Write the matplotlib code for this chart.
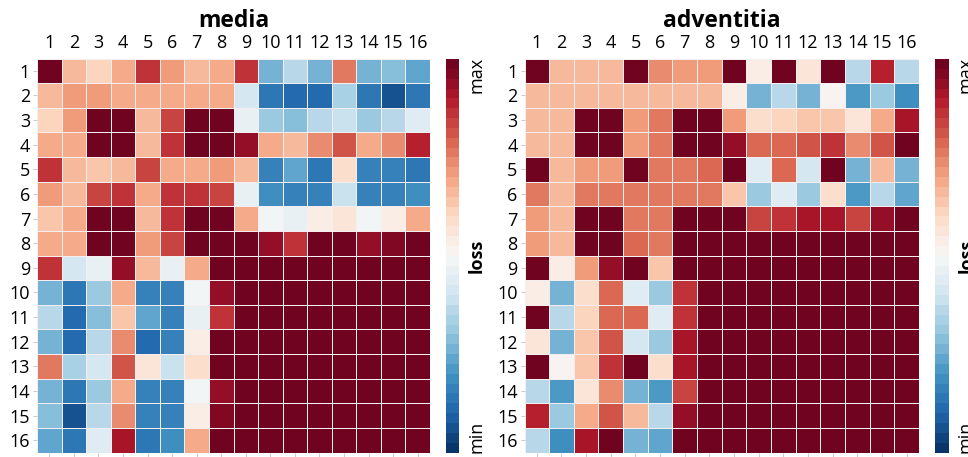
import numpy as np
import matplotlib
matplotlib.use("Agg")
import matplotlib.pyplot as plt
from matplotlib.colors import ListedColormap

plt.rcParams['font.family'] = ['Open Sans', 'DejaVu Sans']

# normalised loss per (row, column) pair, 0 = min, 1 = max
labels = [str(i) for i in range(1, 17)]

media = [
    [1.00, 0.65, 0.62, 0.68, 0.85, 0.70, 0.66, 0.69, 0.85, 0.25, 0.35, 0.26, 0.77, 0.26, 0.28, 0.24],
    [0.66, 0.71, 0.71, 0.69, 0.68, 0.68, 0.69, 0.69, 0.40, 0.14, 0.11, 0.11, 0.34, 0.13, 0.07, 0.13],
    [0.62, 0.71, 1.00, 1.00, 0.65, 0.83, 1.00, 1.00, 0.47, 0.31, 0.29, 0.35, 0.38, 0.32, 0.35, 0.44],
    [0.68, 0.69, 1.00, 1.00, 0.67, 0.85, 1.00, 1.00, 0.93, 0.69, 0.65, 0.73, 0.82, 0.69, 0.74, 0.88],
    [0.86, 0.67, 0.64, 0.66, 0.83, 0.69, 0.68, 0.71, 0.67, 0.16, 0.24, 0.14, 0.58, 0.16, 0.17, 0.13],
    [0.70, 0.66, 0.83, 0.86, 0.69, 0.86, 0.85, 0.83, 0.47, 0.18, 0.16, 0.17, 0.38, 0.17, 0.16, 0.19],
    [0.63, 0.68, 1.00, 1.00, 0.66, 0.85, 1.00, 1.00, 0.69, 0.49, 0.47, 0.54, 0.57, 0.49, 0.54, 0.69],
    [0.69, 0.69, 1.00, 1.00, 0.72, 0.83, 1.00, 1.00, 1.00, 0.93, 0.85, 1.00, 1.00, 0.93, 0.97, 1.00],
    [0.86, 0.40, 0.47, 0.93, 0.66, 0.47, 0.69, 1.00, 1.00, 1.00, 1.00, 1.00, 1.00, 1.00, 1.00, 1.00],
    [0.25, 0.13, 0.31, 0.69, 0.16, 0.17, 0.49, 0.93, 1.00, 1.00, 1.00, 1.00, 1.00, 1.00, 1.00, 1.00],
    [0.35, 0.12, 0.28, 0.64, 0.24, 0.16, 0.46, 0.85, 1.00, 1.00, 1.00, 1.00, 1.00, 1.00, 1.00, 1.00],
    [0.25, 0.11, 0.35, 0.74, 0.12, 0.16, 0.54, 1.00, 1.00, 1.00, 1.00, 1.00, 1.00, 1.00, 1.00, 1.00],
    [0.77, 0.33, 0.40, 0.82, 0.57, 0.38, 0.58, 1.00, 1.00, 1.00, 1.00, 1.00, 1.00, 1.00, 1.00, 1.00],
    [0.25, 0.14, 0.31, 0.69, 0.16, 0.17, 0.49, 0.93, 1.00, 1.00, 1.00, 1.00, 1.00, 1.00, 1.00, 1.00],
    [0.28, 0.07, 0.35, 0.73, 0.17, 0.16, 0.54, 0.96, 1.00, 1.00, 1.00, 1.00, 1.00, 1.00, 1.00, 1.00],
    [0.24, 0.14, 0.44, 0.90, 0.13, 0.19, 0.69, 1.00, 1.00, 1.00, 1.00, 1.00, 1.00, 1.00, 1.00, 1.00],
]

adventitia = [
    [1.00, 0.67, 0.67, 0.66, 1.00, 0.74, 0.72, 0.72, 1.00, 0.54, 1.00, 0.55, 1.00, 0.35, 0.89, 0.36],
    [0.67, 0.67, 0.67, 0.66, 0.67, 0.66, 0.66, 0.66, 0.53, 0.26, 0.35, 0.26, 0.51, 0.22, 0.31, 0.18],
    [0.67, 0.67, 1.00, 1.00, 0.72, 0.77, 1.00, 1.00, 0.70, 0.59, 0.61, 0.64, 0.64, 0.57, 0.68, 0.92],
    [0.67, 0.67, 1.00, 1.00, 0.72, 0.77, 1.00, 1.00, 0.93, 0.78, 0.78, 0.80, 0.85, 0.74, 0.82, 1.00],
    [1.00, 0.67, 0.72, 0.72, 1.00, 0.77, 0.77, 0.79, 1.00, 0.43, 0.79, 0.42, 1.00, 0.25, 0.67, 0.26],
    [0.75, 0.67, 0.77, 0.77, 0.77, 0.77, 0.77, 0.77, 0.64, 0.31, 0.43, 0.31, 0.58, 0.22, 0.35, 0.23],
    [0.72, 0.67, 1.00, 1.00, 0.77, 0.77, 1.00, 1.00, 1.00, 0.84, 0.86, 0.90, 0.91, 0.83, 0.93, 1.00],
    [0.72, 0.67, 1.00, 1.00, 0.79, 0.77, 1.00, 1.00, 1.00, 1.00, 1.00, 1.00, 1.00, 1.00, 1.00, 1.00],
    [1.00, 0.53, 0.70, 0.93, 1.00, 0.64, 1.00, 1.00, 1.00, 1.00, 1.00, 1.00, 1.00, 1.00, 1.00, 1.00],
    [0.54, 0.26, 0.59, 0.78, 0.43, 0.31, 0.85, 1.00, 1.00, 1.00, 1.00, 1.00, 1.00, 1.00, 1.00, 1.00],
    [1.00, 0.35, 0.61, 0.78, 0.79, 0.43, 0.86, 1.00, 1.00, 1.00, 1.00, 1.00, 1.00, 1.00, 1.00, 1.00],
    [0.55, 0.26, 0.64, 0.80, 0.42, 0.31, 0.90, 1.00, 1.00, 1.00, 1.00, 1.00, 1.00, 1.00, 1.00, 1.00],
    [1.00, 0.51, 0.64, 0.85, 1.00, 0.58, 0.91, 1.00, 1.00, 1.00, 1.00, 1.00, 1.00, 1.00, 1.00, 1.00],
    [0.35, 0.22, 0.57, 0.74, 0.25, 0.22, 0.83, 1.00, 1.00, 1.00, 1.00, 1.00, 1.00, 1.00, 1.00, 1.00],
    [0.89, 0.31, 0.68, 0.82, 0.67, 0.35, 0.93, 1.00, 1.00, 1.00, 1.00, 1.00, 1.00, 1.00, 1.00, 1.00],
    [0.36, 0.18, 0.92, 1.00, 0.26, 0.23, 1.00, 1.00, 1.00, 1.00, 1.00, 1.00, 1.00, 1.00, 1.00, 1.00],
]

W, H = 968, 457
fig = plt.figure(figsize=(W / 100, H / 100), dpi=100)

# 40 discrete steps of RdBu_r, each taken at the middle of its bin
base = matplotlib.colormaps['RdBu_r']
cmap = ListedColormap(base((np.arange(40) + 0.5) / 40))


def px(x0, y0, x1, y1):
    # pixel box (top-left origin) -> figure fraction
    return [x0 / W, 1 - y1 / H, (x1 - x0) / W, (y1 - y0) / H]


panels = [
    ("media", media, px(37, 58.5, 430, 452.5), px(445.5, 59, 459, 452.5)),
    ("adventitia", adventitia, px(524.5, 58.5, 919, 452.5), px(934.5, 59, 948.5, 452.5)),
]

for title, data, box, cbox in panels:
    ax = fig.add_axes(box)
    mesh = ax.pcolormesh(np.array(data), cmap=cmap, vmin=0, vmax=1,
                         edgecolors='#f4eef0', linewidth=0.7)
    ax.set_xlim(0, 16)
    ax.set_ylim(16, 0)
    ticks = np.arange(16) + 0.5
    ax.set_xticks(ticks)
    ax.set_xticklabels(labels)
    ax.set_yticks(ticks)
    ax.set_yticklabels(labels)
    ax.tick_params(axis='x', top=False, bottom=True, labeltop=True, labelbottom=False,
                   length=3, color='#cccccc', labelsize=13, pad=2)
    ax.tick_params(axis='y', length=3, color='#cccccc', labelsize=13, pad=2)
    for s in ax.spines.values():
        s.set_visible(False)
    ax.set_title(title, fontsize=16.5, fontweight='bold', pad=5)

    cax = fig.add_axes(cbox)
    cbar = fig.colorbar(mesh, cax=cax)
    cbar.outline.set_visible(False)
    cbar.set_ticks([0.04, 0.96])
    cbar.set_ticklabels(['min', 'max'])
    cax.tick_params(length=0, labelsize=13, pad=6)
    for t in cax.get_yticklabels():
        t.set_rotation(90)
        t.set_va('center')
    cax.text(1.0 + 9 / 14, 0.5, 'loss', transform=cax.transAxes, rotation=90,
             ha='left', va='center', fontsize=13, fontweight='bold')

fig.savefig('out.png', dpi=100)
